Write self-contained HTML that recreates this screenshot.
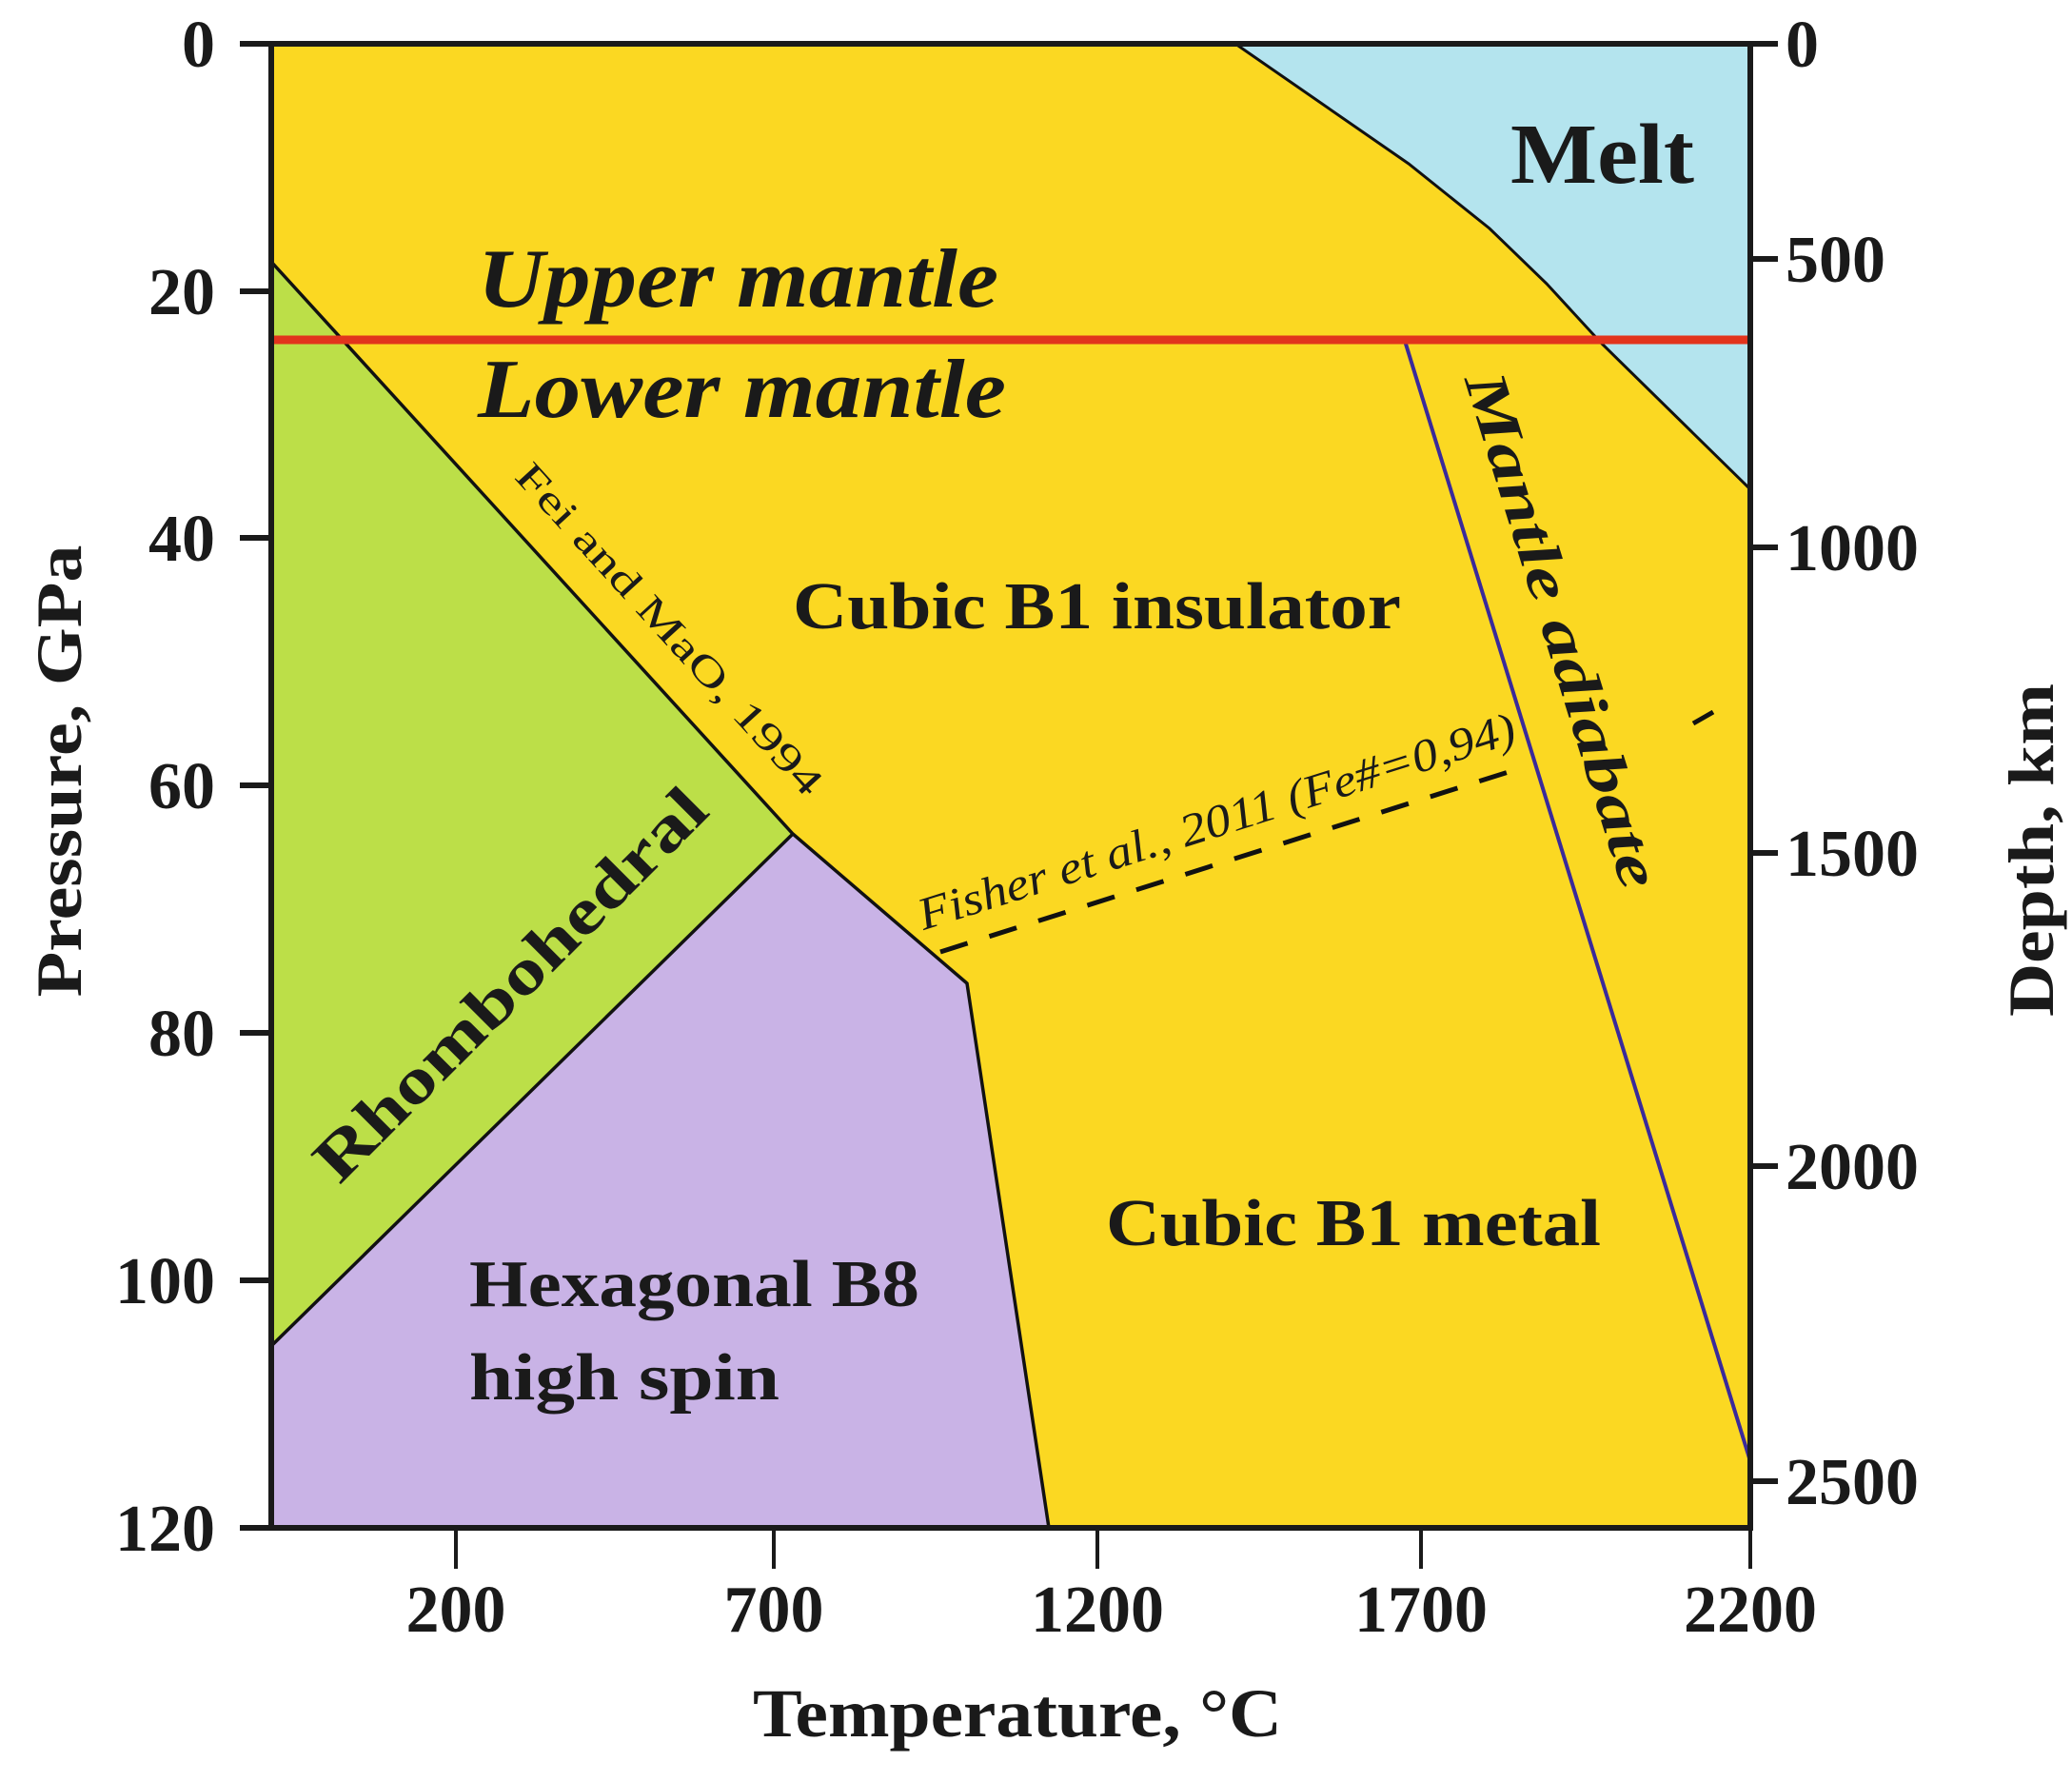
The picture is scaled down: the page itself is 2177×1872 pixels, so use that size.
<!DOCTYPE html>
<html><head><meta charset="utf-8"><style>
html,body{margin:0;padding:0;background:#fff}
svg{display:block}
text{font-family:"Liberation Serif",serif;fill:#1a1a1a}
</style></head><body>
<svg width="2177" height="1872" viewBox="0 0 2177 1872" xmlns="http://www.w3.org/2000/svg">
<rect x="285" y="46" width="1554" height="1559" fill="#FBD822"/>
<polygon points="1298,46 1839,46 1839,514 1682,360 1625,298 1565,240 1480,172" fill="#B4E4EE"/>
<polygon points="285,275 833,876 285,1414" fill="#BCDF48"/>
<polygon points="285,1414 833,876 1016,1033 1102,1605 285,1605" fill="#C9B3E6"/>
<polyline points="1298,46 1480,172 1565,240 1625,298 1682,360 1839,514" fill="none" stroke="#111" stroke-width="3"/>
<polyline points="285,275 833,876 1016,1033 1102,1605" fill="none" stroke="#111" stroke-width="3.5"/>
<line x1="833" y1="876" x2="285" y2="1414" stroke="#111" stroke-width="3.5"/>
<line x1="988" y1="1000" x2="1591" y2="809" stroke="#111" stroke-width="5" stroke-dasharray="30,24"/>
<line x1="1779" y1="760" x2="1800" y2="748" stroke="#111" stroke-width="5"/>
<line x1="1476" y1="358" x2="1839" y2="1535" stroke="#3A2A9A" stroke-width="4"/>
<line x1="285" y1="357" x2="1839" y2="357" stroke="#E2341C" stroke-width="9"/>
<rect x="285" y="46" width="1554" height="1559" fill="none" stroke="#1a1a1a" stroke-width="6"/>
<g stroke="#1a1a1a" stroke-width="6">
<line x1="252" y1="46" x2="285" y2="46"/><line x1="252" y1="306" x2="285" y2="306"/>
<line x1="252" y1="565" x2="285" y2="565"/><line x1="252" y1="825" x2="285" y2="825"/>
<line x1="252" y1="1085" x2="285" y2="1085"/><line x1="252" y1="1345" x2="285" y2="1345"/>
<line x1="252" y1="1605" x2="285" y2="1605"/>
<line x1="1839" y1="46" x2="1868" y2="46"/><line x1="1839" y1="272" x2="1868" y2="272"/>
<line x1="1839" y1="575" x2="1868" y2="575"/><line x1="1839" y1="896" x2="1868" y2="896"/>
<line x1="1839" y1="1225" x2="1868" y2="1225"/><line x1="1839" y1="1556" x2="1868" y2="1556"/>
</g>
<g stroke="#1a1a1a" stroke-width="4">
<line x1="479" y1="1605" x2="479" y2="1648"/><line x1="813" y1="1605" x2="813" y2="1648"/>
<line x1="1153" y1="1605" x2="1153" y2="1648"/><line x1="1493" y1="1605" x2="1493" y2="1648"/>
<line x1="1839" y1="1605" x2="1839" y2="1648"/>
</g>
<g font-size="70" font-weight="bold" text-anchor="end">
<text x="226" y="70">0</text><text x="226" y="330">20</text><text x="226" y="589">40</text>
<text x="226" y="849">60</text><text x="226" y="1109">80</text><text x="226" y="1369">100</text>
<text x="226" y="1629">120</text>
</g>
<g font-size="70" font-weight="bold" text-anchor="start">
<text x="1876" y="70">0</text><text x="1876" y="296">500</text><text x="1876" y="599">1000</text>
<text x="1876" y="920">1500</text><text x="1876" y="1249">2000</text><text x="1876" y="1580">2500</text>
</g>
<g font-size="70" font-weight="bold" text-anchor="middle">
<text x="479" y="1714">200</text><text x="813" y="1714">700</text><text x="1153" y="1714">1200</text>
<text x="1493" y="1714">1700</text><text x="1839" y="1714">2200</text>
</g>
<text x="791" y="1824" font-size="72" font-weight="bold" textLength="556" lengthAdjust="spacingAndGlyphs">Temperature, °C</text>
<text transform="translate(85,810) rotate(-90)" font-size="68" font-weight="bold" text-anchor="middle" textLength="475" lengthAdjust="spacingAndGlyphs">Pressure, GPa</text>
<text transform="translate(2157,893) rotate(-90)" font-size="68" font-weight="bold" text-anchor="middle" textLength="350" lengthAdjust="spacingAndGlyphs">Depth, km</text>
<text x="1587" y="192" font-size="90" font-weight="bold" textLength="193" lengthAdjust="spacingAndGlyphs">Melt</text>
<text x="502" y="322" font-size="88" font-weight="bold" font-style="italic" textLength="547" lengthAdjust="spacingAndGlyphs">Upper mantle</text>
<text x="502" y="438" font-size="88" font-weight="bold" font-style="italic" textLength="555" lengthAdjust="spacingAndGlyphs">Lower mantle</text>
<text x="833" y="660" font-size="70" font-weight="bold" textLength="639" lengthAdjust="spacingAndGlyphs">Cubic B1 insulator</text>
<text x="1162" y="1308" font-size="70" font-weight="bold" textLength="520" lengthAdjust="spacingAndGlyphs">Cubic B1 metal</text>
<text x="493" y="1372" font-size="70" font-weight="bold" textLength="473" lengthAdjust="spacingAndGlyphs">Hexagonal B8</text>
<text x="493" y="1470" font-size="70" font-weight="bold" textLength="326" lengthAdjust="spacingAndGlyphs">high spin</text>
<text transform="translate(552,1050) rotate(-45)" font-size="68" font-weight="bold" text-anchor="middle" textLength="553" lengthAdjust="spacingAndGlyphs">Rhombohedral</text>
<text transform="translate(693,670) rotate(47.6)" font-size="42" text-anchor="middle" textLength="456" lengthAdjust="spacingAndGlyphs">Fei and MaO, 1994</text>
<text transform="translate(1283,878) rotate(-17.6)" font-size="48" font-style="italic" text-anchor="middle" textLength="656" lengthAdjust="spacingAndGlyphs">Fisher et al., 2011 (Fe#=0,94)</text>
<text transform="translate(1622,668) rotate(72.8)" font-size="62" font-weight="bold" font-style="italic" text-anchor="middle" textLength="564" lengthAdjust="spacingAndGlyphs">Mantle adiabate</text>
</svg>
</body></html>
